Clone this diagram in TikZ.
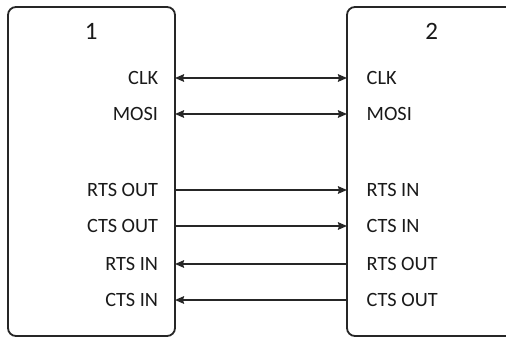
\documentclass[tikz,border=0pt]{standalone}
\usepackage{fontspec}
\setmainfont{Carlito}
\usetikzlibrary{arrows.meta}
\definecolor{linec}{HTML}{262626}
\definecolor{textc}{HTML}{1A1A1A}
\tikzset{
  chip/.style={draw=linec, line width=1.8pt, rounded corners=8pt, rectangle, inner sep=0pt},
  sig/.style={text=textc, font=\fontsize{20.3}{22}\selectfont, text height=13pt, text depth=0pt, inner sep=0pt},
  ttl/.style={text=textc, font=\fontsize{25}{27}\selectfont, inner sep=0pt},
  wire/.style={draw=linec, line width=1.8pt},
  tip/.tip={Stealth[length=9pt,width=7.5pt,inset=1pt]}
}
\begin{document}
\begin{tikzpicture}[x=1pt,y=-1pt]
\useasboundingbox (0,0) rectangle (506,338);
\clip (0,0) rectangle (506,338);
\fill[white] (0,0) rectangle (506,338);
% boxes
\draw[chip] (8,7) rectangle (175,336);
\draw[chip] (347,7) rectangle (516,336);
\coordinate (L) at (175,0);
\coordinate (R) at (347,0);
\node[ttl] (t1) at (91.2,31.7) {1};
\node[ttl] (t2) at (431.7,31.7) {2};
% left labels
\node[sig, anchor=east] (l1) at (158.3,78) {CLK};
\node[sig, anchor=east] (l2) at (158.3,114) {MOSI};
\node[sig, anchor=east] (l3) at (158.3,190) {RTS OUT};
\node[sig, anchor=east] (l4) at (158.3,226) {CTS OUT};
\node[sig, anchor=east] (l5) at (158.3,264) {RTS IN};
\node[sig, anchor=east] (l6) at (158.3,300) {CTS IN};
% right labels
\node[sig, anchor=west] (r1) at (366.5,78) {CLK};
\node[sig, anchor=west] (r2) at (366.5,114) {MOSI};
\node[sig, anchor=west] (r3) at (366.5,190) {RTS IN};
\node[sig, anchor=west] (r4) at (366.5,226) {CTS IN};
\node[sig, anchor=west] (r5) at (366.5,264) {RTS OUT};
\node[sig, anchor=west] (r6) at (366.5,300) {CTS OUT};
% wires
\draw[wire, tip-tip] (L |- l1.east) -- (R |- r1.west);
\draw[wire, tip-tip] (L |- l2.east) -- (R |- r2.west);
\draw[wire, -tip] (L |- l3.east) -- (R |- r3.west);
\draw[wire, -tip] (L |- l4.east) -- (R |- r4.west);
\draw[wire, tip-] (L |- l5.east) -- (R |- r5.west);
\draw[wire, tip-] (L |- l6.east) -- (R |- r6.west);
\end{tikzpicture}
\end{document}
